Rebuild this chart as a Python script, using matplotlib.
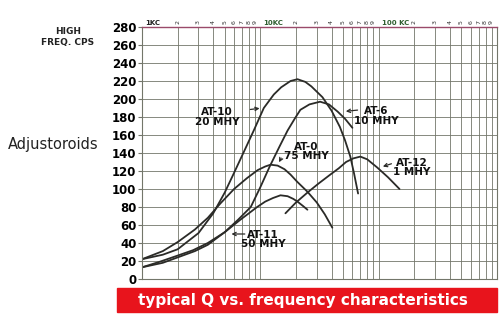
import matplotlib
matplotlib.use("Agg")
import matplotlib.pyplot as plt
import matplotlib.transforms as mtransforms
from matplotlib.patches import Rectangle

# frequency in KC, Q values
at10_f = [1, 1.5, 2, 3, 4, 5, 6, 7.3, 8.8, 10.7, 13, 15, 18, 20.6, 24, 27, 33.5, 40, 47, 52, 57.6, 62, 67]
at10_q = [22, 27, 33, 51, 73, 96, 118, 142, 165, 190, 205, 213, 220, 222, 219, 214, 202, 187, 169, 154, 136, 117, 95]

at6_f = [1, 1.5, 2, 2.8, 3.6, 5, 6.5, 8.3, 10, 12, 14.5, 17, 19.5, 21.8, 26, 32, 38, 45, 52, 60]
at6_q = [13, 18, 24, 31, 38, 52, 66, 80, 102, 125, 147, 165, 178, 188, 194, 197, 194, 186, 178, 168]

at0_f = [1, 1.5, 2, 2.8, 3.6, 4.6, 6, 7.7, 9.5, 11, 12.2, 14, 16, 18, 20.5, 25, 30, 35, 40.6]
at0_q = [22, 31, 41, 55, 68, 84, 100, 112, 121, 125, 127, 126, 122, 116, 108, 97, 85, 72, 57]

at11_f = [1, 1.4, 1.9, 2.7, 3.6, 5, 6.8, 8, 9.4, 11, 12.8, 14.8, 17, 19, 20.6, 23, 25]
at11_q = [13, 19, 25, 32, 40, 52, 66, 73, 80, 86, 90, 93, 92, 89, 86, 81, 77]

at12_f = [16.3, 20, 25, 31, 39, 46, 53, 61, 70, 80, 97, 120, 150]
at12_q = [73, 85, 96, 106, 116, 123, 130, 134, 136, 133, 124, 113, 100]

y_ticks = list(range(0, 281, 20))
decades = [1, 10, 100]
decade_labels = ["1KC", "10KC", "100 KC"]

labels = [
    # text, text position (KC, Q), arrow start, arrow tip
    ("AT-10\n20 MHY", (4.3, 180), (7.8, 188), (10.4, 190)),
    ("AT-6\n10 MHY", (95, 181), (70, 188), (50, 186)),
    ("AT-0\n75 MHY", (24.6, 142), (15.4, 137), (14, 127)),
    ("AT-11\n50 MHY", (10.5, 44), (7.8, 50), (5.4, 50)),
    ("AT-12\n1 MHY", (190, 124), (135, 129), (103, 124)),
]

fig = plt.figure(figsize=(5.01, 3.16), dpi=100)
ax = fig.add_axes([142 / 501, 37 / 316, 355 / 501, 252 / 316])
ax.set_xscale("log")
ax.set_xlim(1, 1000)
ax.set_ylim(0, 280)

grid_c = "#73766a"
ax.set_yticks(y_ticks)
ax.set_xticks(decades + [1000])
ax.set_xticks([d * m for d in decades for m in range(2, 10)], minor=True)
ax.xaxis.set_ticklabels([])
ax.xaxis.set_ticklabels([], minor=True)
ax.grid(True, which="both", axis="x", color=grid_c, lw=0.6)
ax.grid(True, which="major", axis="y", color=grid_c, lw=0.6)
ax.tick_params(axis="x", which="both", length=0)
ax.tick_params(axis="y", length=3, color=grid_c, pad=1, labelsize=8.5)
for lab in ax.get_yticklabels():
    lab.set_fontweight("bold")
for s in ["left", "bottom", "right"]:
    ax.spines[s].set_color(grid_c)
    ax.spines[s].set_linewidth(0.8)
ax.spines["top"].set_color("#9a4a6a")
ax.spines["top"].set_linewidth(1.0)

curve_c = "#2b2b28"
for f, q in [(at10_f, at10_q), (at6_f, at6_q), (at0_f, at0_q),
             (at11_f, at11_q), (at12_f, at12_q)]:
    ax.plot(f, q, color=curve_c, lw=1.3, solid_capstyle="round",
            solid_joinstyle="round")

for text, pos, start, tip in labels:
    ax.text(pos[0], pos[1], text, ha="center", va="center", fontsize=7.5,
            fontweight="bold", linespacing=0.9, color="#111111")
    ax.annotate("", xy=tip, xytext=start,
                arrowprops=dict(arrowstyle="->", color=curve_c, lw=0.9,
                                mutation_scale=6))

# top scale labels
trans = mtransforms.blended_transform_factory(ax.transData, ax.transAxes)
for d, lab in zip(decades, decade_labels):
    col = "#222222" if d == 1 else "#2f5f30"
    ax.text(d * 1.06, 1.005, lab, transform=trans, fontsize=5, fontweight="bold",
            color=col, ha="left", va="bottom")
    for m in range(2, 10):
        ax.text(d * m, 1.01, str(m), transform=trans, fontsize=4.5,
                rotation=90, ha="center", va="bottom", color="#333333")

fig.text(68 / 501, 1 - 32 / 316, "HIGH", ha="center", va="center",
         fontsize=6.5, fontweight="bold", color="#222222")
fig.text(68 / 501, 1 - 43 / 316, "FREQ. CPS", ha="center", va="center",
         fontsize=6.5, fontweight="bold", color="#222222")
fig.text(8 / 501, 1 - 145 / 316, "Adjustoroids", ha="left", va="center",
         fontsize=10.5, color="#222222")

fig.patches.append(Rectangle((117 / 501, 4 / 316), 380 / 501, 24 / 316,
                             transform=fig.transFigure, color="#e8141c",
                             zorder=0))
fig.text(303 / 501, 16 / 316, "typical Q vs. frequency characteristics",
         ha="center", va="center", fontsize=11, fontweight="bold",
         color="white")

fig.savefig("out.png", dpi=100)
